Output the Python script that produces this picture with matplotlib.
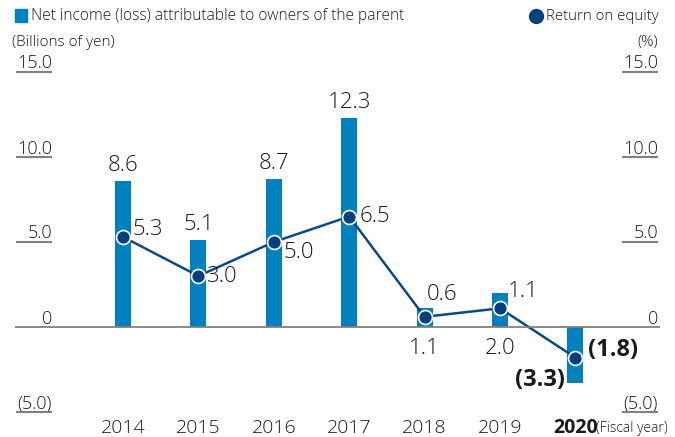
import matplotlib
matplotlib.use("Agg")
import matplotlib.pyplot as plt
from matplotlib.patches import Rectangle
from matplotlib.lines import Line2D

years = ["2014", "2015", "2016", "2017", "2018", "2019", "2020"]
net_income = [8.6, 5.1, 8.7, 12.3, 1.1, 2.0, -3.3]
roe = [5.3, 3.0, 5.0, 6.5, 0.6, 1.1, -1.8]
net_labels = ["8.6", "5.1", "8.7", "12.3", "1.1", "2.0", "(3.3)"]
roe_labels = ["5.3", "3.0", "5.0", "6.5", "0.6", "1.1", "(1.8)"]
ytick_vals = [15, 10, 5, 0, -5]
ytick_labels = ["15.0", "10.0", "5.0", "0", "(5.0)"]

# label offsets in pixels (layout only)
roe_dx = [10, 9, 10, 10, 2, 8, 13]
roe_dy = [7, -1, -10, 0, 22, 17, 8]

plt.rcParams['font.family'] = ['Open Sans', 'DejaVu Sans']

BAR = "#0081bf"
LINE = "#0b4a88"
MARK = "#063f7c"
GRID = "#808080"
TXT = "#1a1a1a"
LW = "light"

W, H = 675, 437
fig = plt.figure(figsize=(W / 100, H / 100), dpi=100)

ax_l, ax_r, ax_t, ax_b = 15, 660, 60, 425
ax = fig.add_axes([ax_l / W, (H - ax_b) / H, (ax_r - ax_l) / W, (ax_b - ax_t) / H])
ppu = 17.0
ax.set_ylim(-5 - (ax_b - (327 + 5 * ppu)) / ppu, 15 + ((327 - 15 * ppu) - ax_t) / ppu)
step = 75.4
x0px = 123
ax.set_xlim(-(x0px - ax_l) / step, (ax_r - x0px) / step)
ax.axis("off")

x = list(range(len(years)))
ax.bar(x, net_income, width=0.21, color=BAR, zorder=2)
ax.plot(x, roe, color=LINE, lw=1.8, zorder=3)
ax.plot(x, roe, "o", ms=10, mfc=MARK, mec="white", mew=1.2, zorder=4, ls="none")

xl = ax.get_xlim()
ax.plot(xl, [0, 0], color=GRID, lw=1.3, zorder=5, solid_capstyle="butt")
uw_l = (52 - ax_l) / step
uw_r = (ax_r - 622) / step
for v, lab in zip(ytick_vals, ytick_labels):
    if v != 0:
        ax.plot([xl[0] + 1 / step, xl[0] + uw_l], [v, v], color=GRID, lw=1.5, zorder=5,
                solid_capstyle="butt")
        ax.plot([xl[1] - uw_r, xl[1] - 2 / step], [v, v], color=GRID, lw=1.5, zorder=5,
                solid_capstyle="butt")
    ax.text(xl[0] + 37 / step, v + 3.5 / ppu, lab, ha="right", va="baseline", fontsize=13,
            color=TXT, fontweight=LW)
    ax.text(xl[1] - 2 / step, v + 3.5 / ppu, lab, ha="right", va="baseline", fontsize=13,
            color=TXT, fontweight=LW)

FS = 16
FSB = 17
for i, (v, lab) in enumerate(zip(net_income, net_labels)):
    if i in (4, 5):
        ax.text(i, -11 / ppu, lab, ha="center", va="top", fontsize=FS, color=TXT, fontweight=LW)
    elif v < 0:
        ax.text(i - 10 / step, v + 3 / ppu, lab, ha="right", va="center", fontsize=FSB,
                fontweight="bold", color=TXT)
    else:
        ax.text(i, v + 5 / ppu, lab, ha="center", va="bottom", fontsize=FS, color=TXT,
                fontweight=LW)

for i, (v, lab) in enumerate(zip(roe, roe_labels)):
    bold = v < 0
    ax.text(i + roe_dx[i] / step, v + roe_dy[i] / ppu, lab, ha="left", va="center",
            fontsize=FSB if bold else FS, color=TXT, fontweight="bold" if bold else LW)

for i, y in enumerate(years):
    ax.text(i, -5 - 16 / ppu, y, ha="center", va="center", fontsize=14, color=TXT,
            fontweight="bold" if i == len(years) - 1 else LW)
ax.text(6 + 21 / step, -5 - 16 / ppu, "(Fiscal year)", ha="left", va="center", fontsize=10,
        color=TXT, fontweight=LW)

def fx(px):
    return px / W

def fy(py):
    return 1 - py / H

fig.patches.append(Rectangle((fx(15), fy(22)), 12 / W, 13 / H, transform=fig.transFigure,
                             color=BAR))
fig.text(fx(31), fy(16), "Net income (loss) attributable to owners of the parent",
         ha="left", va="center", fontsize=11.2, color=TXT, fontweight=LW)
fig.lines.append(Line2D([fx(536)], [fy(16)], marker="o", ms=10, mfc=MARK, mec=MARK,
                        transform=fig.transFigure))
fig.text(fx(546), fy(16), "Return on equity", ha="left", va="center", fontsize=10.8,
         color=TXT, fontweight=LW)
fig.text(fx(12), fy(43), "(Billions of yen)", ha="left", va="center", fontsize=11,
         color=TXT, fontweight=LW)
fig.text(fx(658), fy(43), "(%)", ha="right", va="center", fontsize=11, color=TXT,
         fontweight=LW)

fig.savefig("out.png", dpi=100)
